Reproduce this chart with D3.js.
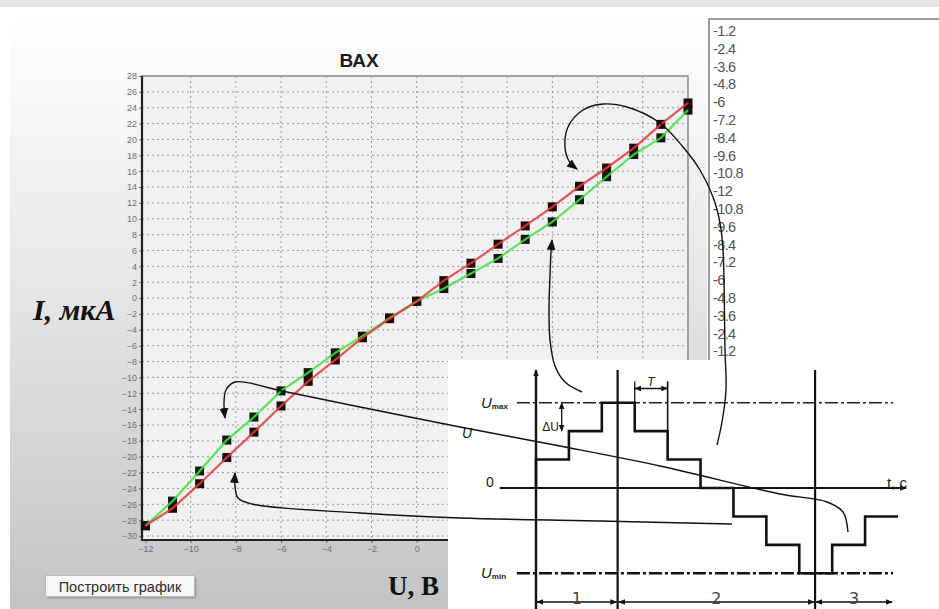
<!DOCTYPE html>
<html>
<head>
<meta charset="utf-8">
<script src="https://cdn.jsdelivr.net/npm/d3@7"></script>
<style>
  html, body { margin: 0; padding: 0; background: #ffffff; }
  svg { display: block; }
</style>
</head>
<body>
<svg id="scene" width="939" height="609"></svg>
<script>
// ---- I–V characteristic data (voltage in V, current in µA) ----
const voltages = [-12, -10.8, -9.6, -8.4, -7.2, -6, -4.8, -3.6, -2.4, -1.2, 0,
                  1.2, 2.4, 3.6, 4.8, 6, 7.2, 8.4, 9.6, 10.8, 12];
const currentForward = [-28.7, -26.5, -23.4, -20.1, -16.9, -13.6, -10.5, -7.8, -5.0, -2.6, -0.4,
                        2.2, 4.4, 6.8, 9.1, 11.5, 14.1, 16.4, 18.9, 21.9, 24.6];
const currentReverse = [-28.7, -25.6, -21.8, -17.9, -15.0, -11.7, -9.4, -6.9, -4.8, -2.5, -0.4,
                        1.2, 3.1, 5.0, 7.4, 9.6, 12.4, 15.3, 18.1, 20.2, 23.7];
const xTickValues = d3.range(-12, 13, 2);
const yTickValues = d3.range(-30, 29, 2);

// voltage sequence shown in the list box
const voltageList = ["-1.2", "-2.4", "-3.6", "-4.8", "-6", "-7.2", "-8.4", "-9.6", "-10.8", "-12",
                     "-10.8", "-9.6", "-8.4", "-7.2", "-6", "-4.8", "-3.6", "-2.4", "-1.2"];

// ---- staircase voltage waveform (time in step periods, level in ΔU) ----
const stairTimes  = [0, 0, 1, 2, 3, 4, 5, 6, 7, 8, 9, 10, 11];
const stairLevels = [0, 1, 2, 3, 2, 1, 0, -1, -2, -3, -2, -1, -1];
const phaseBounds = [0, 2.48, 8.48, 10.85];
const phaseLabels = ["1", "2", "3"];

const svg = d3.select("#scene");
const defs = svg.append("defs");

const bg = defs.append("linearGradient").attr("id", "panelGrad")
  .attr("x1", 0).attr("y1", 0).attr("x2", 0).attr("y2", 1);
bg.append("stop").attr("offset", "0%").attr("stop-color", "#ffffff");
bg.append("stop").attr("offset", "35%").attr("stop-color", "#ededed");
bg.append("stop").attr("offset", "100%").attr("stop-color", "#c3c3c3");

// arrowheads
defs.append("marker").attr("id", "arrowBig")
  .attr("viewBox", "0 0 10 10").attr("refX", 9).attr("refY", 5)
  .attr("markerWidth", 11).attr("markerHeight", 11)
  .attr("markerUnits", "userSpaceOnUse").attr("orient", "auto")
  .append("path").attr("d", "M0,1 L10,5 L0,9 Z").attr("fill", "#111");
defs.append("marker").attr("id", "arrowSmall")
  .attr("viewBox", "0 0 10 10").attr("refX", 9).attr("refY", 5)
  .attr("markerWidth", 7).attr("markerHeight", 7)
  .attr("markerUnits", "userSpaceOnUse").attr("orient", "auto-start-reverse")
  .append("path").attr("d", "M0,1 L10,5 L0,9 Z").attr("fill", "#111");

// ---- window background ----
svg.append("rect").attr("x", 0).attr("y", 0).attr("width", 939).attr("height", 609).attr("fill", "#ffffff");
svg.append("rect").attr("x", 0).attr("y", 0).attr("width", 939).attr("height", 7).attr("fill", "#e6e6e6");
svg.append("rect").attr("x", 10).attr("y", 7).attr("width", 697).attr("height", 602).attr("fill", "url(#panelGrad)");

// ---- chart ----
const x = d3.scaleLinear().domain([-12.15, 12]).range([142, 688]);
const y = d3.scaleLinear().domain([-30.5, 28]).range([540, 76]);

svg.append("rect").attr("x", x.range()[0]).attr("y", y.range()[1])
  .attr("width", x.range()[1] - x.range()[0]).attr("height", y.range()[0] - y.range()[1])
  .attr("fill", "#f1f1f1").attr("stroke", "#8a8a8a").attr("stroke-width", 1.5);

const grid = svg.append("g").attr("stroke", "#9a9a9a").attr("stroke-width", 1)
  .attr("stroke-dasharray", "2,3");
grid.selectAll("line.v").data(xTickValues.filter(v => v > -12 && v < 12)).join("line")
  .attr("x1", d => x(d)).attr("x2", d => x(d)).attr("y1", y.range()[1]).attr("y2", y.range()[0]);
grid.selectAll("line.h").data(yTickValues.filter(v => v > -30.5 && v < 28)).join("line")
  .attr("x1", x.range()[0]).attr("x2", x.range()[1]).attr("y1", d => y(d)).attr("y2", d => y(d));

const yAxis = svg.append("g").attr("transform", `translate(${x.range()[0]},0)`)
  .call(d3.axisLeft(y).tickValues(yTickValues).tickSize(3).tickPadding(2).tickFormat(d3.format("d")));
yAxis.select(".domain").remove();
yAxis.selectAll("text").attr("font-family", "Liberation Sans, Arial, sans-serif")
  .attr("font-size", 9).attr("fill", "#707070");
yAxis.selectAll("line").attr("stroke", "#666");

const xAxis = svg.append("g").attr("transform", `translate(0,${y.range()[0]})`)
  .call(d3.axisBottom(x).tickValues(xTickValues).tickSize(3).tickPadding(3).tickFormat(d3.format("d")));
xAxis.select(".domain").remove();
xAxis.selectAll("text").attr("font-family", "Liberation Sans, Arial, sans-serif")
  .attr("font-size", 9).attr("fill", "#707070");
xAxis.selectAll("line").attr("stroke", "#666");

// axis lines
svg.append("line").attr("x1", x.range()[0]).attr("x2", x.range()[0])
  .attr("y1", y.range()[1]).attr("y2", y.range()[0] + 1).attr("stroke", "#222").attr("stroke-width", 2.2);
svg.append("line").attr("x1", x.range()[0] - 1).attr("x2", x.range()[1])
  .attr("y1", y.range()[0]).attr("y2", y.range()[0]).attr("stroke", "#222").attr("stroke-width", 2.2);

// markers then lines
const series = [
  { values: currentReverse, color: "#3fe33f", mark: "#0d1a0d" },
  { values: currentForward, color: "#e8393a", mark: "#1e0a0a" }
];
const lineGen = d3.line().x(d => x(d[0])).y(d => y(d[1]));
series.forEach(s => {
  const pts = voltages.map((v, i) => [v, s.values[i]]);
  svg.append("g").selectAll("rect").data(pts).join("rect")
    .attr("x", d => x(d[0]) - 4.5).attr("y", d => y(d[1]) - 4.5)
    .attr("width", 9).attr("height", 9).attr("fill", s.mark);
});
series.forEach(s => {
  const pts = voltages.map((v, i) => [v, s.values[i]]);
  svg.append("path").datum(pts).attr("d", lineGen)
    .attr("fill", "none").attr("stroke", s.color).attr("stroke-width", 2.2)
    .attr("stroke-opacity", 0.85);
});

// titles
svg.append("text").attr("x", 359).attr("y", 67).attr("text-anchor", "middle")
  .attr("font-family", "Liberation Sans, Arial, sans-serif").attr("font-weight", "bold")
  .attr("font-size", 19).attr("fill", "#1a1a1a").text("ВАХ");
svg.append("text").attr("x", 33).attr("y", 320)
  .attr("font-family", "Liberation Serif, Times New Roman, serif").attr("font-weight", "bold")
  .attr("font-style", "italic").attr("font-size", 30).attr("fill", "#111").text("I, мкА");
svg.append("text").attr("x", 388).attr("y", 595)
  .attr("font-family", "Liberation Serif, Times New Roman, serif").attr("font-weight", "bold")
  .attr("font-size", 27).attr("fill", "#111").text("U, B");

// button
svg.append("rect").attr("x", 47.5).attr("y", 577.5).attr("width", 149).attr("height", 21)
  .attr("fill", "#7d7d7d").attr("opacity", 0.5);
svg.append("rect").attr("x", 45.5).attr("y", 575.5).attr("width", 149).attr("height", 21)
  .attr("fill", "#f7f7f7").attr("stroke", "#b8b8b8");
svg.append("text").attr("x", 120).attr("y", 591.5).attr("text-anchor", "middle")
  .attr("font-family", "Liberation Sans, Arial, sans-serif").attr("font-size", 14.5)
  .attr("fill", "#2e2e2e").text("Построить график");

// ---- list box ----
svg.append("rect").attr("x", 709).attr("y", 19).attr("width", 240).attr("height", 400)
  .attr("fill", "#ffffff").attr("stroke", "#9a9a9a").attr("stroke-width", 2);
svg.append("g").selectAll("text").data(voltageList).join("text")
  .attr("x", 713).attr("y", (d, i) => 36 + i * 17.8)
  .attr("font-family", "Liberation Sans, Arial, sans-serif").attr("font-size", 14.5)
  .attr("fill", "#555").attr("letter-spacing", -0.6).text(d => d);

// ---- staircase waveform diagram ----
const ins = svg.append("g");
ins.append("rect").attr("x", 448).attr("y", 360).attr("width", 491).attr("height", 249).attr("fill", "#ffffff");

const t = d3.scaleLinear().domain([0, 11]).range([536, 898]);
const u = d3.scaleLinear().domain([-3, 3]).range([573.3, 402.7]);

const ink = "#111";
const seg = (x1, y1, x2, y2, w) => ins.append("line").attr("x1", x1).attr("y1", y1)
  .attr("x2", x2).attr("y2", y2).attr("stroke", ink).attr("stroke-width", w || 2);

// axes
seg(t(0), 609, t(0), 370, 2.4).attr("marker-end", "url(#arrowSmall)");
seg(t(-1.1), u(0), t(11.25), u(0), 2.2).attr("marker-end", "url(#arrowSmall)");
phaseBounds.slice(1, 3).forEach(b => seg(t(b), 370, t(b), 609, 2.2));

// limit levels
seg(t(-0.58), u(3), t(10.85), u(3), 1.4).attr("stroke-dasharray", "13,3,3,3").attr("stroke", "#222");
seg(t(-0.58), u(-3), t(10.85), u(-3), 2.4).attr("stroke-dasharray", "13,3,3,3");

// waveform
const stairLine = d3.line().curve(d3.curveStepAfter).x(d => t(d[0])).y(d => u(d[1]));
ins.append("path").datum(stairTimes.map((v, i) => [v, stairLevels[i]]))
  .attr("d", stairLine).attr("fill", "none").attr("stroke", ink).attr("stroke-width", 2.6);

// ΔU and T dimensions
seg(t(0.78), u(2), t(0.78), u(3), 1.3).attr("marker-start", "url(#arrowSmall)")
  .attr("marker-end", "url(#arrowSmall)");
seg(t(3), u(3.75), t(3), u(3), 1.3);
seg(t(4), u(3.75), t(4), u(2), 1.6);
seg(t(3), u(3.5), t(4), u(3.5), 1.3).attr("marker-start", "url(#arrowSmall)")
  .attr("marker-end", "url(#arrowSmall)");

// phase dimensions along the bottom
const dimY = 602;
d3.pairs(phaseBounds).forEach(([a, b], i) => {
  seg(t(a) + 1, dimY, t(b) - 1, dimY, 1.6).attr("marker-start", "url(#arrowSmall)")
    .attr("marker-end", "url(#arrowSmall)");
  ins.append("text").attr("x", (t(a) + t(b)) / 2).attr("y", 604).attr("text-anchor", "middle")
    .attr("font-family", "DejaVu Sans, sans-serif").attr("font-size", 16).attr("fill", "#444")
    .text(phaseLabels[i]);
});

// labels
const lab = (xx, yy, s, size, extra) => {
  const el = ins.append("text").attr("x", xx).attr("y", yy)
    .attr("font-family", "Liberation Sans, Arial, sans-serif").attr("font-size", size || 14)
    .attr("fill", "#222");
  if (extra) extra(el);
  return el.text(s);
};
const subLabel = (yy, sub) => {
  const el = ins.append("text").attr("x", 481).attr("y", yy)
    .attr("font-family", "Liberation Sans, Arial, sans-serif").attr("fill", "#222");
  el.append("tspan").attr("font-size", 15).attr("font-style", "italic").text("U");
  el.append("tspan").attr("font-size", 8).attr("dy", 1).attr("font-weight", "bold").text(sub);
};
subLabel(u(3) + 5, "max");
subLabel(u(-3) + 5, "min");
lab(486, 487, "0", 14);
lab(462, 438, "U", 14, e => e.attr("font-style", "italic"));
lab(559, 431, "ΔU", 12, e => e.attr("text-anchor", "end"));
lab(651, 386, "T", 12, e => e.attr("font-style", "italic").attr("text-anchor", "middle"));
lab(887, 488, "t, c", 15);

// ---- annotation arrows linking the curves and the waveform ----
const curve = d3.line().curve(d3.curveCatmullRom.alpha(0.5));
const notes = [
  [[717,445],[722,422],[726,390],[725,350],[723,250],[720,223],[713,197],[700,170],[683,147],
   [660,123],[627,107],[603,104],[583,110],[568,127],[565,147],[569,161],[577,169]],
  [[582,392],[565,382],[555,366],[550,340],[549,310],[550,275],[551,252],[552,240]],
  [[848,532],[843,512],[827,502],[780,494],[660,466],[560,446],[460,427],[360,407],[282,391],
   [235,382],[226,390],[224,403],[225,418]],
  [[732,524],[600,521],[460,518],[360,513],[252,504],[238,498],[235,486],[235,473]]
];
const notesG = svg.append("g");
notes.forEach(pts => {
  notesG.append("path").attr("d", curve(pts)).attr("fill", "none")
    .attr("stroke", "#111").attr("stroke-width", 1.4).attr("marker-end", "url(#arrowBig)");
});
</script>
</body>
</html>
